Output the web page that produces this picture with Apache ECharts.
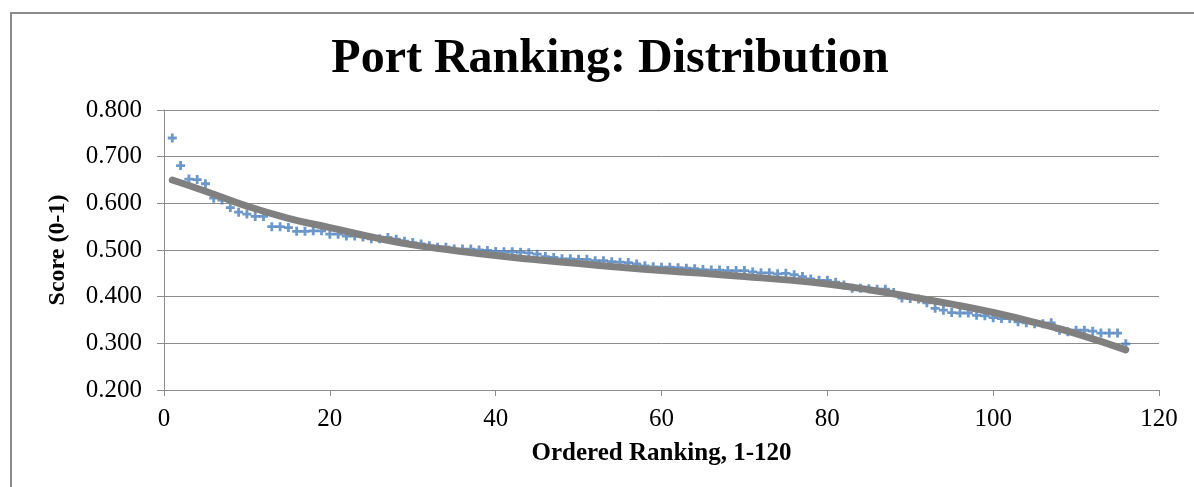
<!DOCTYPE html>
<html>
<head>
<meta charset="utf-8">
<script src="https://cdn.jsdelivr.net/npm/echarts@6/dist/echarts.min.js"></script>
<style>
  html, body { margin: 0; padding: 0; background: #ffffff; }
  #chart { width: 1194px; height: 487px; }
</style>
</head>
<body>
<div id="chart"></div>
<script>
// Score of each port, ordered by rank (rank 1 first)
const scores = [
  0.740, 0.681, 0.652, 0.651, 0.642, 0.611, 0.607, 0.591, 0.581, 0.577,
  0.572, 0.572, 0.550, 0.550, 0.548, 0.540, 0.540, 0.541, 0.541, 0.534,
  0.534, 0.530, 0.530, 0.528, 0.524, 0.524, 0.527, 0.523, 0.519, 0.516,
  0.513, 0.509, 0.506, 0.506, 0.502, 0.502, 0.502, 0.500, 0.499, 0.497,
  0.496, 0.496, 0.495, 0.494, 0.491, 0.486, 0.484, 0.481, 0.481, 0.480,
  0.480, 0.477, 0.477, 0.475, 0.474, 0.473, 0.470, 0.466, 0.464, 0.463,
  0.463, 0.462, 0.461, 0.460, 0.458, 0.457, 0.457, 0.456, 0.456, 0.456,
  0.453, 0.451, 0.451, 0.449, 0.450, 0.447, 0.443, 0.438, 0.435, 0.435,
  0.431, 0.425, 0.418, 0.418, 0.417, 0.416, 0.416, 0.409, 0.397, 0.396,
  0.395, 0.387, 0.375, 0.371, 0.366, 0.365, 0.365, 0.360, 0.359, 0.355,
  0.353, 0.353, 0.346, 0.344, 0.342, 0.342, 0.344, 0.328, 0.325, 0.328,
  0.328, 0.326, 0.322, 0.322, 0.322, 0.299
];

// Trend line
const trendRank  = [1, 5, 10, 15, 20, 25, 30, 35, 40, 45, 50, 55, 60, 65, 70, 75, 80, 85, 90, 95, 100, 105, 110, 116];
const trendScore = [0.650, 0.626, 0.594, 0.568, 0.548, 0.528, 0.511, 0.499, 0.488, 0.479, 0.471, 0.463, 0.456, 0.450, 0.443, 0.436, 0.427, 0.415, 0.400, 0.384, 0.366, 0.345, 0.321, 0.286];

const yTicks = { min: 0.2, max: 0.8, interval: 0.1 };
const xTicks = { min: 0, max: 120, interval: 20 };

const titleText = 'Port Ranking: Distribution';
const xTitle = 'Ordered Ranking, 1-120';
const yTitle = 'Score (0-1)';

const points = scores.map((v, i) => [i + 1, v]);
const trend = trendRank.map((r, i) => [r, trendScore[i]]);

const serif = '"Liberation Serif", "Times New Roman", serif';
const gridColor = '#8c8c8c';

const chart = echarts.init(document.getElementById('chart'), null, { renderer: 'canvas' });
chart.setOption({
  backgroundColor: '#ffffff',
  animation: false,
  title: {
    text: titleText,
    left: 605,
    top: 31,
    textAlign: 'center',
    textStyle: { fontFamily: serif, fontSize: 48, fontWeight: 'bold', color: '#000000' }
  },
  graphic: [{
    type: 'rect',
    silent: true,
    shape: { x: 11, y: 13, width: 1400, height: 700 },
    style: { fill: 'none', stroke: '#8a8a8a', lineWidth: 2 }
  }],
  grid: { left: 164, right: 35, top: 110, bottom: 97, containLabel: false },
  xAxis: {
    type: 'value',
    min: xTicks.min, max: xTicks.max, interval: xTicks.interval,
    name: xTitle,
    nameLocation: 'middle',
    nameGap: 51,
    nameTextStyle: { fontFamily: serif, fontSize: 25, fontWeight: 'bold', color: '#000000' },
    axisLine: { show: true, onZero: false, lineStyle: { color: gridColor, width: 1 } },
    axisTick: { show: true, inside: false, length: 6, lineStyle: { color: gridColor } },
    axisLabel: { margin: 17, fontFamily: serif, fontSize: 25, color: '#000000' },
    splitLine: { show: false }
  },
  yAxis: {
    type: 'value',
    min: yTicks.min, max: yTicks.max, interval: yTicks.interval,
    name: yTitle,
    nameLocation: 'middle',
    nameGap: 94,
    nameRotate: 90,
    nameTextStyle: { fontFamily: serif, fontSize: 24, fontWeight: 'bold', color: '#000000' },
    axisLine: { show: true, lineStyle: { color: gridColor, width: 1 } },
    axisTick: { show: true, inside: false, length: 7, lineStyle: { color: gridColor } },
    axisLabel: {
      margin: 22, fontFamily: serif, fontSize: 25, color: '#000000',
      formatter: v => v.toFixed(3)
    },
    splitLine: { show: true, lineStyle: { color: gridColor, width: 1 } }
  },
  series: [
    {
      name: 'Score',
      type: 'scatter',
      data: points,
      symbol: 'path://M2.75,0h2.5v2.75h2.75v2.5h-2.75v2.75h-2.5v-2.75h-2.75v-2.5h2.75z',
      symbolSize: 9,
      itemStyle: { color: '#4a7ebb' },
      z: 2
    },
    {
      name: 'Trend',
      type: 'line',
      data: trend,
      smooth: true,
      showSymbol: false,
      symbol: 'none',
      lineStyle: { color: '#808080', width: 7, cap: 'round', join: 'round' },
      z: 3
    }
  ]
});
</script>
</body>
</html>
